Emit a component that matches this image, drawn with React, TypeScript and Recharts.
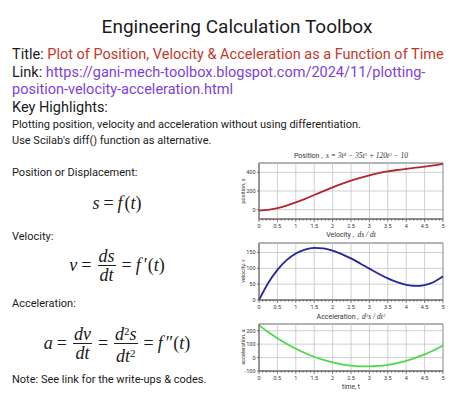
import React from 'react';
import { LineChart, Line, XAxis, YAxis, CartesianGrid, ReferenceArea, ReferenceLine } from 'recharts';

const time = [0, 0.25, 0.5, 0.75, 1, 1.25, 1.5, 1.75, 2, 2.25, 2.5, 2.75, 3, 3.25, 3.5, 3.75, 4, 4.25, 4.5, 4.75, 5];
const position = [-10, -3.0, 15.8, 43.7, 78, 116.5, 157.1, 198.1, 238, 275.7, 310.3, 341.2, 368, 390.7, 409.6, 425.1, 438, 449.5, 460.8, 473.7, 490];
const velocity = [0, 53.6, 95.3, 126, 147, 159.4, 164.3, 162.8, 156, 145.1, 131.3, 115.5, 99, 82.9, 68.3, 56.3, 48, 44.6, 47.3, 57, 75];
const acceleration = [240, 189.8, 144, 102.8, 66, 33.8, 6, -17.3, -36, -50.3, -60, -65.3, -66, -62.3, -54, -41.3, -24, -2.3, 24, 54.8, 90];

const xMajorTicks = [0, 0.5, 1, 1.5, 2, 2.5, 3, 3.5, 4, 4.5, 5];
const xTickLabels = ['0', '0.5', '1', '1.5', '2', '2.5', '3', '3.5', '4', '4.5', '5'];
const xMinorTicks = Array.from({ length: 51 }, (_, i) => Math.round(i * 10) / 100);

const posTicks = [0, 200, 400];
const velTicks = [0, 50, 100, 150];
const accTicks = [-100, 0, 100, 200];

const rows = time.map((t, i) => ({ t, s: position[i], v: velocity[i], a: acceleration[i] }));

const SANS = 'Roboto, "Noto Sans", sans-serif';
const SERIF = '"Liberation Serif", "DejaVu Serif", serif';

function XTick(props: any) {
  const { x, y, payload } = props;
  const v = payload.value;
  const idx = xMajorTicks.findIndex((m) => Math.abs(m - v) < 1e-6);
  const major = idx >= 0;
  return (
    <g>
      <line x1={x} x2={x} y1={y} y2={y + (major ? 3 : 1.6)} stroke="#444" strokeWidth={0.7} />
      {major && (
        <text x={x} y={y + 8.5} textAnchor="middle" fontSize={5.5} fill="#333" fontFamily={SANS}>
          {xTickLabels[idx]}
        </text>
      )}
    </g>
  );
}

function SubChart({ dataKey, color, domain, yTicks, top, plotH, xLabelH }: any) {
  const mt = 2;
  const h = plotH + mt + xLabelH;
  return (
    <div style={{ position: 'absolute', left: 230, top: top - mt, width: 244, height: h }}>
      <LineChart width={244} height={h} data={rows} margin={{ top: mt, right: 31, bottom: 0, left: 0 }}>
        <CartesianGrid stroke="#c4c4c4" strokeWidth={0.8} vertical={false} />
        {xMajorTicks.map((m) => (
          <ReferenceLine key={m} x={m} stroke="#c4c4c4" strokeWidth={0.8} />
        ))}
        <XAxis
          dataKey="t"
          type="number"
          domain={[0, 5]}
          ticks={xMinorTicks}
          interval={0}
          tickSize={0}
          tickMargin={0}
          tick={<XTick />}
          height={xLabelH}
          axisLine={{ stroke: '#555', strokeWidth: 0.8 }}
        />
        <YAxis
          type="number"
          domain={domain}
          ticks={yTicks}
          width={29}
          tickSize={2}
          tickMargin={1.5}
          interval={0}
          allowDataOverflow
          tick={{ fontSize: 5.5, fill: '#333', fontFamily: SANS }}
          tickLine={{ stroke: '#444', strokeWidth: 0.7 }}
          axisLine={{ stroke: '#555', strokeWidth: 0.8 }}
        />
        <ReferenceArea x1={0} x2={5} y1={domain[0]} y2={domain[1]} fill="none" stroke="#666" strokeWidth={0.8} />
        <Line dataKey={dataKey} type="monotone" stroke={color} strokeWidth={1.8} dot={false} isAnimationActive={false} />
      </LineChart>
    </div>
  );
}

const txt = (extra: any): React.CSSProperties => ({ position: 'absolute', whiteSpace: 'nowrap', fontFamily: SANS, color: '#1a1a1a', ...extra });

function Frac({ n, d }: any) {
  return (
    <span style={{ display: 'inline-flex', flexDirection: 'column', alignItems: 'center', verticalAlign: 'middle', margin: '0 2px' }}>
      <span style={{ lineHeight: '18px', padding: '0 1px' }}>{n}</span>
      <span style={{ borderTop: '1px solid #222', width: '100%', height: 0 }} />
      <span style={{ lineHeight: '18px', padding: '0 1px' }}>{d}</span>
    </span>
  );
}

function Eq({ top, children }: any) {
  return (
    <div style={{ position: 'absolute', left: 0, width: 234, top, display: 'flex', alignItems: 'center', justifyContent: 'center', fontFamily: SERIF, fontStyle: 'italic', fontSize: 18, color: '#1a1a1a', whiteSpace: 'nowrap' }}>
      {children}
    </div>
  );
}

const up = { fontStyle: 'normal' as const };
const eqs = { fontStyle: 'normal' as const, margin: '0 4px' };
const sup = { fontSize: 11, fontStyle: 'normal' as const, verticalAlign: '0.5em' };
const mathSpan = { fontFamily: SERIF, fontStyle: 'italic' as const, fontSize: 7.5 };
const tsup = { fontSize: 5, verticalAlign: '0.45em' };

export default function App() {
  return (
    <div style={{ position: 'absolute', left: 0, top: 0, width: 474, height: 397, background: '#fff', overflow: 'hidden' }}>
      <div style={txt({ left: 0, width: 474, top: 15, fontSize: 19, lineHeight: '24px', textAlign: 'center' })}>Engineering Calculation Toolbox</div>
      <div style={txt({ left: 12, top: 46, fontSize: 14.5, lineHeight: '17.5px' })}>
        Title: <span style={{ color: '#c0392b' }}>Plot of Position, Velocity &amp; Acceleration as a Function of Time</span>
        <br />
        Link: <span style={{ color: '#7d3fd8' }}>https://gani-mech-toolbox.blogspot.com/2024/11/plotting-</span>
        <br />
        <span style={{ color: '#7d3fd8' }}>position-velocity-acceleration.html</span>
        <br />
        Key Highlights:
      </div>
      <div style={txt({ left: 12, top: 117, fontSize: 11, lineHeight: '16px' })}>
        Plotting position, velocity and acceleration without using differentiation.
        <br />
        Use Scilab&apos;s diff() function as alternative.
      </div>

      <div style={txt({ left: 12, top: 166, fontSize: 11, lineHeight: '14px' })}>Position or Displacement:</div>
      <div style={txt({ left: 12, top: 230, fontSize: 11, lineHeight: '14px' })}>Velocity:</div>
      <div style={txt({ left: 12, top: 297, fontSize: 11, lineHeight: '14px' })}>Acceleration:</div>
      <div style={txt({ left: 12, top: 373, fontSize: 11, lineHeight: '14px' })}>Note: See link for the write-ups &amp; codes.</div>

      <Eq top={193}>
        <span>s</span><span style={eqs}>=</span><span style={{ paddingRight: 2 }}>f</span><span style={up}>(</span><span>t</span><span style={up}>)</span>
      </Eq>
      <Eq top={247}>
        <span>v</span><span style={eqs}>=</span>
        <Frac n="ds" d="dt" />
        <span style={eqs}>=</span><span style={{ paddingRight: 3 }}>f</span><span style={up}>′(</span><span>t</span><span style={up}>)</span>
      </Eq>
      <Eq top={321}>
        <span>a</span><span style={eqs}>=</span>
        <Frac n="dv" d="dt" />
        <span style={eqs}>=</span>
        <Frac n={<span>d<span style={sup}>2</span>s</span>} d={<span>dt<span style={sup}>2</span></span>} />
        <span style={eqs}>=</span><span style={{ paddingRight: 3 }}>f</span><span style={up}>″(</span><span>t</span><span style={up}>)</span>
      </Eq>

      <div style={txt({ left: 259, width: 184, top: 150, fontSize: 7, lineHeight: '10px', textAlign: 'center', color: '#333' })}>
        Position ,&nbsp;&nbsp;<span style={mathSpan}>s = 3t<span style={tsup}>4</span> − 35t<span style={tsup}>3</span> + 120t<span style={tsup}>2</span> − 10</span>
      </div>
      <SubChart dataKey="s" color="#b3262c" domain={[-100, 500]} yTicks={posTicks} top={163} plotH={56} xLabelH={12} />

      <div style={txt({ left: 259, width: 184, top: 230, fontSize: 7, lineHeight: '10px', textAlign: 'center', color: '#333' })}>
        Velocity ,&nbsp;&nbsp;<span style={mathSpan}>ds / dt</span>
      </div>
      <SubChart dataKey="v" color="#25259c" domain={[0, 180]} yTicks={velTicks} top={243} plotH={57} xLabelH={12} />

      <div style={txt({ left: 259, width: 184, top: 311, fontSize: 7, lineHeight: '10px', textAlign: 'center', color: '#333' })}>
        Acceleration ,&nbsp;&nbsp;<span style={mathSpan}>d<span style={tsup}>2</span>s / dt<span style={tsup}>2</span></span>
      </div>
      <SubChart dataKey="a" color="#4fd64f" domain={[-100, 250]} yTicks={accTicks} top={324} plotH={47} xLabelH={12} />
      <div style={txt({ left: 259, width: 184, top: 383, fontSize: 6.5, lineHeight: '8px', textAlign: 'center', color: '#333' })}>time, t</div>

      <div style={txt({ left: 243 - 40, width: 80, top: 191 - 4, fontSize: 5.5, lineHeight: '8px', textAlign: 'center', color: '#333', transform: 'rotate(-90deg)' })}>position, s</div>
      <div style={txt({ left: 243 - 40, width: 80, top: 271 - 4, fontSize: 5.5, lineHeight: '8px', textAlign: 'center', color: '#333', transform: 'rotate(-90deg)' })}>velocity, v</div>
      <div style={txt({ left: 243 - 40, width: 80, top: 347 - 4, fontSize: 5.5, lineHeight: '8px', textAlign: 'center', color: '#333', transform: 'rotate(-90deg)' })}>acceleration, a</div>
    </div>
  );
}
